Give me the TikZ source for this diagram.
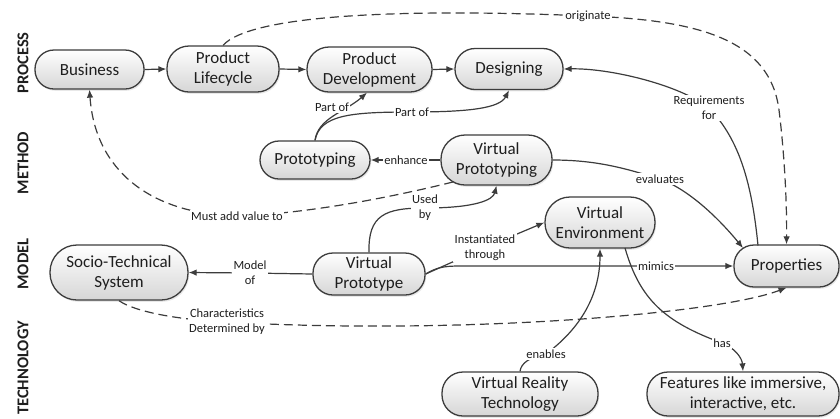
\documentclass[tikz,border=0pt]{standalone}
\usepackage{fontspec}
\setmainfont{Carlito}
\usetikzlibrary{arrows.meta,shadows}
\definecolor{lc}{HTML}{3C3C3C}
\definecolor{tc}{HTML}{1E1E1E}
\definecolor{fillbot}{HTML}{D6D6D6}
\newcommand{\nodefnt}{\fontsize{17bp}{20bp}\selectfont}
\newcommand{\lblfnt}{\fontsize{12.5bp}{15bp}\selectfont}
\newcommand{\lanefnt}{\fontsize{16.5bp}{18bp}\selectfont\bfseries}
\begin{document}
\begin{tikzpicture}[x=1bp,y=-1bp,
  concept/.style={draw=lc, line width=1.3bp, rectangle, top color=white, bottom color=fillbot,
    align=center, inner sep=0pt, font=\nodefnt, text=tc,
    drop shadow={shadow xshift=1.2bp, shadow yshift=-1.8bp, opacity=0.18}},
  conn/.style={draw=lc, line width=1.2bp},
  arr/.style={-{Latex[length=8bp,width=6.5bp]}},
  dsh/.style={dash pattern=on 9bp off 5bp},
  lbl/.style={fill=white, inner sep=1.2bp, font=\lblfnt, text=tc, align=center},
  lane/.style={rotate=90, font=\lanefnt, text=tc}]
\useasboundingbox (0,0) rectangle (840,418);

% lane labels
\node[lane] (lProcess) at (23,63) {PROCESS};
\node[lane] (lMethod) at (23,163) {METHOD};
\node[lane] (lModel) at (23,264) {MODEL};
\node[lane] (lTech) at (23,368) {TECHNOLOGY};

% concepts
\node[concept, minimum width=109bp, minimum height=39bp, rounded corners=19bp] (Bus) at (89.5,69.5) {Business};
\node[concept, minimum width=112bp, minimum height=46bp, rounded corners=22bp] (PL) at (223,69) {Product\\Lifecycle};
\node[concept, minimum width=125bp, minimum height=45bp, rounded corners=22bp] (PD) at (369.5,69.5) {Product\\Development};
\node[concept, minimum width=108bp, minimum height=41bp, rounded corners=20bp] (Des) at (509,69) {Designing};
\node[concept, minimum width=110bp, minimum height=38bp, rounded corners=19bp] (Prot) at (315,160) {Prototyping};
\node[concept, minimum width=111bp, minimum height=50bp, rounded corners=24bp] (VPing) at (496.5,160) {Virtual\\Prototyping};
\node[concept, minimum width=110bp, minimum height=51bp, rounded corners=25bp] (VE) at (600,222.5) {Virtual\\Environment};
\node[concept, minimum width=138bp, minimum height=55bp, rounded corners=27bp] (STS) at (119,272.5) {Socio-Technical\\System};
\node[concept, minimum width=112bp, minimum height=42bp, rounded corners=20bp] (VP) at (369,274) {Virtual\\Prototype};
\node[concept, minimum width=105bp, minimum height=42bp, rounded corners=20bp] (Prop) at (786.5,266) {Properties};
\node[concept, minimum width=156bp, minimum height=44bp, rounded corners=21bp] (VRT) at (520,394) {Virtual Reality\\Technology};
\node[concept, minimum width=192bp, minimum height=44bp, rounded corners=21bp] (Feat) at (743,394) {Features like immersive,\\interactive, etc.};

% process chain
\draw[conn, arr] (Bus.east) -- (PL.west);
\draw[conn, arr] (PL.east) -- (PD.west);
\draw[conn, arr] (PD.east) -- (Des.west);

% originate
\draw[conn, dsh, arr] (PL.north) .. controls (250,15) and (400,8) .. (588,16) node[lbl] (lOrig) {originate}
  .. controls (700,20) and (770,40) .. (779,110) .. controls (784,150) and (787,200) .. (Prop.north);

% requirements for
\coordinate (propReq) at (758,245.5);
\draw[conn, arr] (propReq) .. controls (752,185) and (740,140) .. (709,108) node[lbl] (lReq) {Requirements\\for}
  .. controls (680,85) and (610,68) .. (Des.east);

% part of (two)
\draw[conn, arr] (Prot.north) .. controls (318,118) and (345,112) .. (PD.south -| 367,0);
\node[lbl] (lPart1) at (332,107) {Part of};
\draw[conn, arr] (Prot.north) .. controls (320,115) and (350,112) .. (412,112) node[lbl] (lPart2) {Part of}
  .. controls (470,112) and (500,108) .. (Des.south);

% enhance
\draw[conn, arr] (VPing.west) -- (406,160) node[lbl] (lEnh) {enhance} -- (Prot.east);

% must add value to
\coordinate (vpingBL) at (453,182);
\draw[conn, dsh, arr] (vpingBL) .. controls (380,200) and (300,214) .. (237,216) node[lbl] (lMust) {Must add value to}
  .. controls (150,214) and (95,170) .. (Bus.south);

% evaluates
\coordinate (propTL) at (743,248);
\draw[conn, arr] (VPing.east) .. controls (600,160) and (630,170) .. (660,179) node[lbl] (lEval) {evaluates}
  .. controls (690,190) and (720,220) .. (propTL);

% used by
\draw[conn, arr] (VP.north) .. controls (368,215) and (385,208) .. (425,208) node[lbl] (lUsed) {Used\\by}
  .. controls (475,208) and (493,200) .. (VPing.south);

% model of
\draw[conn, arr] (VP.west) -- (250,273) node[lbl] (lModelOf) {Model\\of} -- (STS.east);

% instantiated through
\draw[conn, arr] (VP.east) -- (485,247.5) node[lbl] (lInst) {Instantiated\\through} -- (VE.west);

% mimics
\draw[conn, arr] (VP.east) .. controls (436,268) and (442,266) .. (460,266) -- (656,266) node[lbl] (lMim) {mimics} -- (Prop.west);

% characteristics determined by
\draw[conn, dsh, arr] (STS.south) .. controls (135,312) and (180,320) .. (227,322) node[lbl] (lChar) {Characteristics\\Determined by}
  .. controls (450,335) and (715,315) .. (Prop.south);

% enables
\draw[conn, arr] (VRT.north) .. controls (521,363) and (530,357) .. (546,354) node[lbl] (lEnab) {enables}
  .. controls (585,325) and (600,290) .. (VE.south);

% has
\coordinate (veB) at (625,248);
\draw[conn, arr] (veB) .. controls (640,300) and (665,322) .. (722,343) node[lbl] (lHas) {has}
  .. controls (735,348) and (742,358) .. (Feat.north);
\end{tikzpicture}
\end{document}
